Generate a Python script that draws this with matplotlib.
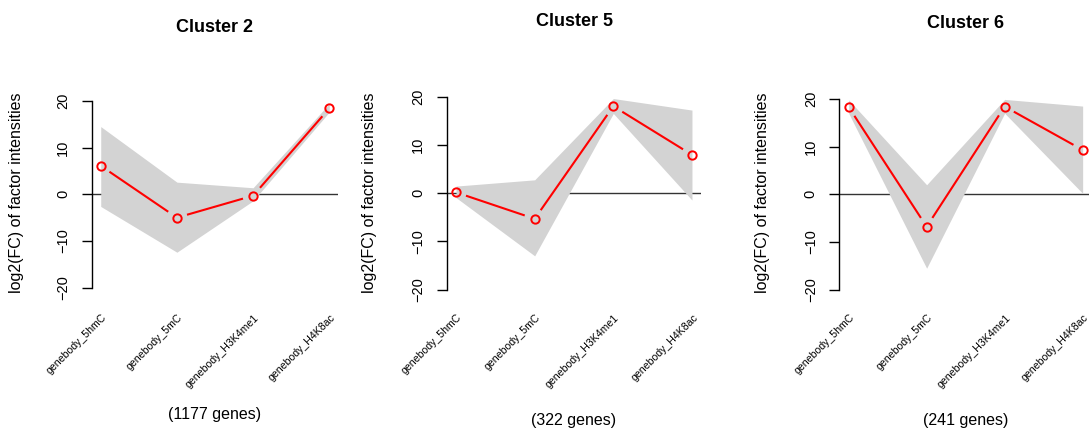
import matplotlib
matplotlib.use("Agg")
import matplotlib.pyplot as plt
import numpy as np

plt.rcParams['font.family'] = ['Liberation Sans', 'DejaVu Sans']

factors = ["genebody_5hmC", "genebody_5mC", "genebody_H3K4me1", "genebody_H4K8ac"]

# cluster 2
c2_mean = [6.1, -5.0, -0.3, 18.4]
c2_hi = [14.5, 2.6, 1.4, 19.4]
c2_lo = [-2.6, -12.4, -1.4, 17.6]
# cluster 5
c5_mean = [0.2, -5.3, 18.1, 8.0]
c5_hi = [1.5, 2.8, 19.7, 17.3]
c5_lo = [-0.9, -13.0, 16.6, -1.4]
# cluster 6
c6_mean = [18.3, -6.8, 18.4, 9.3]
c6_hi = [19.8, 2.0, 19.9, 18.5]
c6_lo = [17.0, -15.5, 17.0, 0.2]

titles = ["Cluster 2", "Cluster 5", "Cluster 6"]
ngenes = ["(1177 genes)", "(322 genes)", "(241 genes)"]

W, H = 1089, 432
fig = plt.figure(figsize=(W / 100, H / 100), dpi=100)

# panel boxes in pixels: left, right, top, bottom ; title y, genes y, ylabel x
boxes = [
    (91.6, 338.4, 93.4, 295.2, 28, 415, 17),
    (446.6, 701.4, 89.4, 297.2, 21, 421, 370),
    (839.3, 1092.0, 91.3, 297.3, 23, 420, 763),
]

data = [(c2_mean, c2_hi, c2_lo), (c5_mean, c5_hi, c5_lo), (c6_mean, c6_hi, c6_lo)]

x = np.arange(1, 5)
gap = 10.5  # px, like R type="b"

for k, (mean, hi, lo) in enumerate(data):
    l, r, t, b, ty, gy, yx = boxes[k]
    ax = fig.add_axes([l / W, 1 - b / H, (r - l) / W, (b - t) / H])
    ax.set_xlim(0.88, 4.12)
    ax.set_ylim(-21.6, 21.6)
    ax.patch.set_alpha(0)

    ax.axhline(0, color="#333333", lw=1.0, zorder=1, clip_on=True)
    ax.fill_between(x, lo, hi, color="#d3d3d3", lw=0, zorder=2)

    # line segments with gaps around points
    pts = ax.transData.transform(np.column_stack([x, mean]))
    for i in range(3):
        p0, p1 = pts[i], pts[i + 1]
        d = p1 - p0
        L = np.hypot(*d)
        u = d / L
        a = ax.transData.inverted().transform([p0 + u * gap, p1 - u * gap])
        ax.plot(a[:, 0], a[:, 1], color="red", lw=1.5, zorder=3,
                solid_capstyle="butt")
    ax.plot(x, mean, ls="none", marker="o", ms=6, mfc="none", mec="red",
            mew=1.4, zorder=4, clip_on=False)

    for s in ["top", "right", "bottom"]:
        ax.spines[s].set_visible(False)
    ax.spines["left"].set_bounds(-20, 20)
    ax.spines["left"].set_linewidth(1.0)
    ax.set_yticks([-20, -10, 0, 10, 20])
    ax.set_yticklabels(["\u221220", "\u221210", "0", "10", "20"], rotation=90,
                       va="center", fontsize=10.5)
    ax.tick_params(axis="y", length=7.5, width=1.0, pad=8)
    ax.set_xticks([])

    for i, lab in enumerate(factors):
        xp = ax.transData.transform((x[i], 0))[0] + 4
        fig.text(xp / W, 1 - 316 / H, lab, rotation=45, rotation_mode="anchor",
                 ha="right", va="center", fontsize=7.6)

    cx = (l + r) / 2
    fig.text(cx / W, 1 - ty / H, titles[k], ha="center", va="center",
             fontsize=13, fontweight="bold")
    fig.text(cx / W, 1 - gy / H, ngenes[k], ha="center", va="center",
             fontsize=11.5)
    fig.text(yx / W, 1 - 193 / H, "log2(FC) of factor intensities",
             rotation=90, ha="center", va="center", fontsize=11.5)

fig.savefig("out.png", dpi=100)
